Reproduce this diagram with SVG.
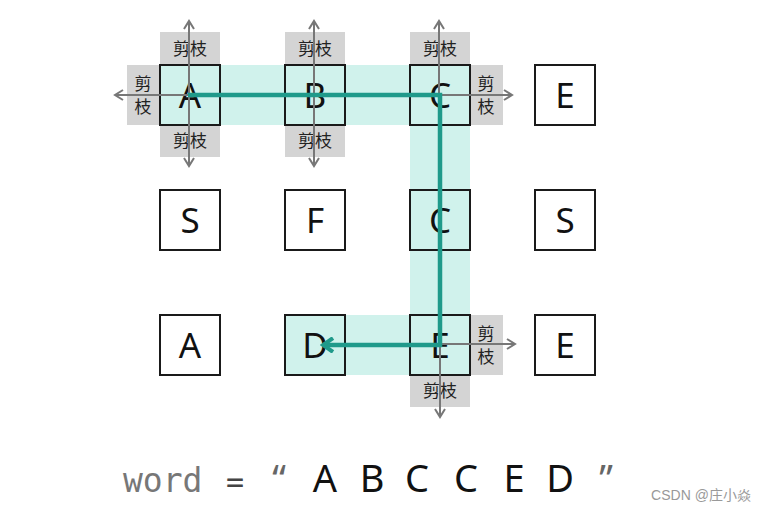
<svg xmlns="http://www.w3.org/2000/svg" width="767" height="512" viewBox="0 0 767 512">
<style>
.box{fill:#fff;stroke:#1a1a1a;stroke-width:2}
.hbox{fill:none;stroke:#1a1a1a;stroke-width:2}
.band{fill:#d0f2ec}
.prune{fill:#d4d4d4}
.pt{font-family:"Noto Sans CJK SC","Noto Sans",sans-serif;font-size:17px;fill:#222;text-anchor:middle}
.lt{font-family:"Noto Sans","Open Sans",sans-serif;font-size:35px;fill:#111;text-anchor:middle}
.gray{stroke:#777;stroke-width:2;fill:none}
.path{stroke:#1f9a8a;stroke-width:4.5;fill:none}
.wt{font-family:"Noto Sans","Open Sans",sans-serif;font-size:38px;fill:#111;text-anchor:middle}
</style>
<defs>
<marker id="ga" viewBox="0 0 12 12" refX="10" refY="6" markerWidth="12" markerHeight="12" markerUnits="userSpaceOnUse" orient="auto-start-reverse">
<path d="M2,1 L10,6 L2,11" fill="none" stroke="#777" stroke-width="2"/>
</marker>
<marker id="ta" viewBox="0 0 16 16" refX="13" refY="8" markerWidth="16" markerHeight="16" markerUnits="userSpaceOnUse" orient="auto">
<path d="M3,1 L13,8 L3,15" fill="none" stroke="#1f9a8a" stroke-width="4"/>
</marker>
</defs>
<g id="bands">
<rect class="band" x="160" y="65" width="310" height="60"/>
<rect class="band" x="410" y="65" width="60" height="310"/>
<rect class="band" x="285" y="315" width="185" height="60"/>
</g>
<g id="prunes">
<rect class="prune" x="160" y="32" width="60" height="33"/>
<rect class="prune" x="127" y="65" width="33" height="60"/>
<rect class="prune" x="160" y="125" width="60" height="32"/>
<rect class="prune" x="285" y="32" width="60" height="33"/>
<rect class="prune" x="285" y="125" width="60" height="32"/>
<rect class="prune" x="410" y="32" width="60" height="33"/>
<rect class="prune" x="470" y="65" width="33" height="60"/>
<rect class="prune" x="470" y="315" width="33" height="60"/>
<rect class="prune" x="410" y="375" width="60" height="32"/>
<text class="pt" x="190" y="55">剪枝</text>
<text class="pt" x="143" y="90">剪</text>
<text class="pt" x="143" y="113">枝</text>
<text class="pt" x="190" y="147">剪枝</text>
<text class="pt" x="315" y="55">剪枝</text>
<text class="pt" x="315" y="147">剪枝</text>
<text class="pt" x="440" y="55">剪枝</text>
<text class="pt" x="486" y="90">剪</text>
<text class="pt" x="486" y="113">枝</text>
<text class="pt" x="486" y="340">剪</text>
<text class="pt" x="486" y="363">枝</text>
<text class="pt" x="440" y="397">剪枝</text>
</g>
<g id="n-r1c1"><rect class="hbox" x="160" y="65" width="60" height="60"/><text class="lt" x="190" y="107.5">A</text></g>
<g id="n-r1c2"><rect class="hbox" x="285" y="65" width="60" height="60"/><text class="lt" x="315" y="107.5">B</text></g>
<g id="n-r1c3"><rect class="hbox" x="410" y="65" width="60" height="60"/><text class="lt" x="440" y="107.5">C</text></g>
<g id="n-r1c4"><rect class="box" x="535" y="65" width="60" height="60"/><text class="lt" x="565" y="107.5">E</text></g>
<g id="n-r2c1"><rect class="box" x="160" y="190" width="60" height="60"/><text class="lt" x="190" y="232.5">S</text></g>
<g id="n-r2c2"><rect class="box" x="285" y="190" width="60" height="60"/><text class="lt" x="315" y="232.5">F</text></g>
<g id="n-r2c3"><rect class="hbox" x="410" y="190" width="60" height="60"/><text class="lt" x="440" y="232.5">C</text></g>
<g id="n-r2c4"><rect class="box" x="535" y="190" width="60" height="60"/><text class="lt" x="565" y="232.5">S</text></g>
<g id="n-r3c1"><rect class="box" x="160" y="315" width="60" height="60"/><text class="lt" x="190" y="357.5">A</text></g>
<g id="n-r3c2"><rect class="hbox" x="285" y="315" width="60" height="60"/><text class="lt" x="315" y="357.5">D</text></g>
<g id="n-r3c3"><rect class="hbox" x="410" y="315" width="60" height="60"/><text class="lt" x="440" y="357.5">E</text></g>
<g id="n-r3c4"><rect class="box" x="535" y="315" width="60" height="60"/><text class="lt" x="565" y="357.5">E</text></g>
<g id="connectors">
<line class="gray" x1="189" y1="166" x2="189" y2="21" marker-start="url(#ga)" marker-end="url(#ga)"/>
<line class="gray" x1="190" y1="95" x2="115" y2="95" marker-end="url(#ga)"/>
<line class="gray" x1="314" y1="166" x2="314" y2="21" marker-start="url(#ga)" marker-end="url(#ga)"/>
<line class="gray" x1="439" y1="95" x2="439" y2="21" marker-end="url(#ga)"/>
<line class="gray" x1="440" y1="95" x2="512" y2="95" marker-end="url(#ga)"/>
<line class="gray" x1="440" y1="344" x2="515" y2="344" marker-end="url(#ga)"/>
<line class="gray" x1="440" y1="345" x2="440" y2="417" marker-end="url(#ga)"/>
<path class="path" d="M188,95 H440 V345 H323" marker-end="url(#ta)"/>
</g>
<g id="word">
<text x="123" y="492" font-family="DejaVu Sans Mono,monospace" font-size="33" fill="#777">word</text>
<text x="235" y="492" font-family="DejaVu Sans Mono,monospace" font-size="30" fill="#444" text-anchor="middle">=</text>
<text class="wt" x="279" y="492" style="fill:#666">“</text>
<text class="wt" x="325" y="492">A</text>
<text class="wt" x="372" y="492">B</text>
<text class="wt" x="417" y="492">C</text>
<text class="wt" x="466" y="492">C</text>
<text class="wt" x="514" y="492">E</text>
<text class="wt" x="560" y="492">D</text>
<text class="wt" x="606" y="492" style="fill:#666">”</text>
</g>
<text x="701" y="500" font-family="'Liberation Sans','Noto Sans CJK SC',sans-serif" font-size="14" fill="#999" text-anchor="middle">CSDN @庄小焱</text>
</svg>
